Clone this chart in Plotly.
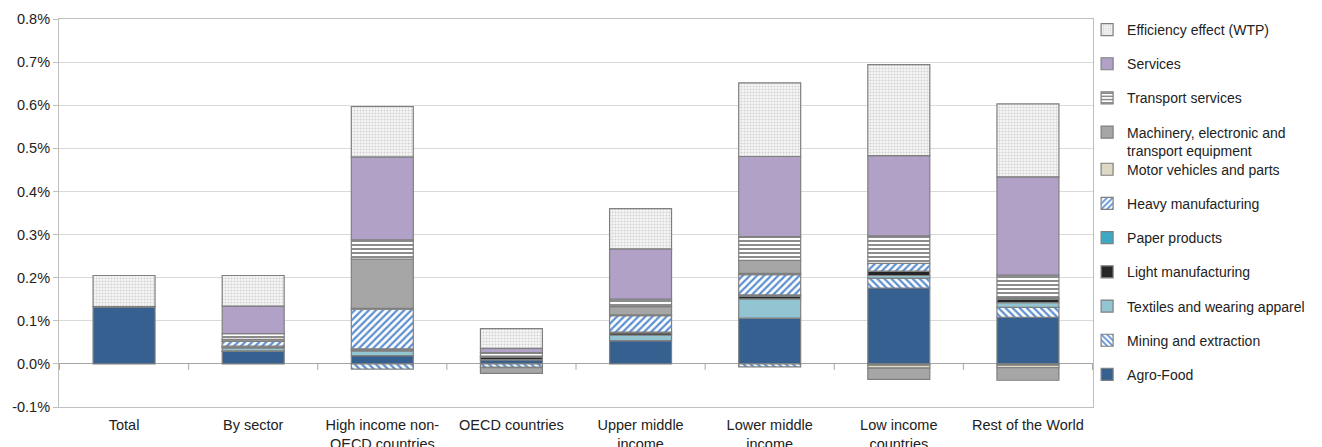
import plotly.graph_objects as go

# Categories on the horizontal axis
categories = [
    "Total",
    "By sector",
    "High income non-<br>OECD countries",
    "OECD countries",
    "Upper middle<br>income",
    "Lower middle<br>income",
    "Low income<br>countries",
    "Rest of the World",
]

# Contributions, in percent
agro_food       = [0.133, 0.029, 0.019, 0.009, 0.054, 0.106, 0.176, 0.108]
mining          = [0.000, 0.001, -0.012, -0.008, 0.000, -0.007, 0.023, 0.023]
textiles        = [0.000, 0.007, 0.011, 0.001, 0.013, 0.045, 0.006, 0.011]
light_manuf     = [0.000, 0.003, 0.003, 0.005, 0.005, 0.006, 0.010, 0.008]
paper           = [0.000, 0.001, 0.002, 0.001, 0.002, 0.003, -0.003, -0.003]
heavy_manuf     = [0.000, 0.011, 0.092, 0.002, 0.038, 0.047, 0.018, 0.003]
motor_vehicles  = [0.000, 0.001, 0.002, -0.001, 0.002, 0.003, -0.007, -0.006]
machinery       = [0.000, 0.004, 0.114, -0.013, 0.019, 0.030, -0.026, -0.029]
transport       = [0.000, 0.013, 0.045, 0.008, 0.017, 0.055, 0.064, 0.053]
services        = [0.000, 0.064, 0.192, 0.010, 0.117, 0.186, 0.186, 0.228]
efficiency      = [0.072, 0.071, 0.117, 0.046, 0.093, 0.171, 0.211, 0.169]

y_ticks = [-0.1, 0.0, 0.1, 0.2, 0.3, 0.4, 0.5, 0.6, 0.7, 0.8]
y_tick_labels = [f"{v:.1f}%" for v in y_ticks]

FONT = "Liberation Sans, Arial, sans-serif"
OUTLINE = "#7F7F7F"
TEXT = "#222222"

# name, values, fill colour, pattern (shape, fg, bg, size, solidity), legend
series = [
    ("Agro-Food", agro_food, "#35608F", None, "legend2"),
    ("Mining and extraction", mining, "#FFFFFF", ("\\", "#5B8FD0", "#FFFFFF", 5, 0.45), "legend2"),
    ("Textiles and wearing apparel", textiles, "#93C4D2", None, "legend2"),
    ("Light manufacturing", light_manuf, "#262626", None, "legend2"),
    ("Paper products", paper, "#3DA9C4", None, "legend2"),
    ("Heavy manufacturing", heavy_manuf, "#FFFFFF", ("/", "#5B8FD0", "#FFFFFF", 5, 0.45), "legend2"),
    ("Motor vehicles and parts", motor_vehicles, "#DDD9C4", None, "legend2"),
    ("Machinery, electronic and<br>transport equipment", machinery, "#A6A6A6", None, "legend"),
    ("Transport services", transport, "#FFFFFF", ("-", "#8C8C8C", "#FFFFFF", 4, 0.5), "legend"),
    ("Services", services, "#B2A1C7", None, "legend"),
    ("Efficiency effect (WTP)", efficiency, "#FFFFFF", (".", "#D2D2D2", "#F8F8F8", 3, 0.4), "legend"),
]

fig = go.Figure()
for i, (name, vals, color, pat, leg) in enumerate(series):
    marker = dict(color=color, line=dict(color=OUTLINE, width=1.2))
    if pat is not None:
        shape, fg, bg, size, solidity = pat
        marker["pattern"] = dict(shape=shape, fgcolor=fg, bgcolor=bg,
                                 size=size, solidity=solidity,
                                 fillmode="replace")
    fig.add_trace(go.Bar(
        name=name, x=categories, y=vals, marker=marker,
        legend=leg, legendgroup=name, legendrank=100 - i,
    ))

# Small tick marks hanging below the zero line between categories
for k in range(len(categories) + 1):
    fig.add_shape(type="line", xref="x", yref="y",
                  x0=k - 0.5, x1=k - 0.5, y0=0, y1=-6,
                  ysizemode="pixel", yanchor=0,
                  line=dict(color="#A6A6A6", width=1))

legend_common = dict(
    xanchor="left", yanchor="top", x=0.9943,
    font=dict(family=FONT, size=14, color=TEXT),
    tracegroupgap=13, itemclick=False, bgcolor="rgba(0,0,0,0)",
    traceorder="grouped", valign="top",
)

fig.update_layout(
    width=1322, height=447,
    margin=dict(l=59, r=229, t=19, b=40, autoexpand=False),
    paper_bgcolor="white", plot_bgcolor="white",
    barmode="relative", bargap=0.52,
    font=dict(family=FONT, size=14.5, color=TEXT),
    showlegend=True,
    legend=dict(legend_common, y=1.013),
    legend2=dict(legend_common, y=0.653),
    xaxis=dict(
        showline=True, mirror=True, linecolor="#BFBFBF", linewidth=1,
        ticks="", showgrid=False, ticklabelstandoff=5, automargin=False,
        tickfont=dict(family=FONT, size=14.5, color=TEXT),
    ),
    yaxis=dict(
        range=[-0.1, 0.8], tickvals=y_ticks, ticktext=y_tick_labels,
        showline=True, mirror=True, linecolor="#BFBFBF", linewidth=1,
        ticks="outside", ticklen=5, tickcolor="#BFBFBF", automargin=False,
        showgrid=True, gridcolor="#D9D9D9", gridwidth=1,
        zeroline=True, zerolinecolor="#A6A6A6", zerolinewidth=1,
        tickfont=dict(family=FONT, size=14.5, color=TEXT),
    ),
)

fig.write_html("out.html")
